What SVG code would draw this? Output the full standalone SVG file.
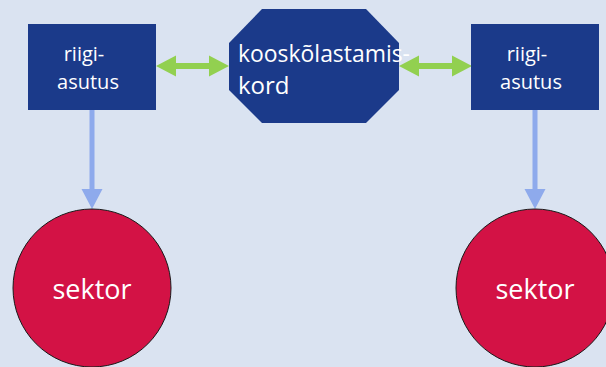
<svg xmlns="http://www.w3.org/2000/svg" width="606" height="367" viewBox="0 0 606 367">
  <style>
    .box { fill: #1b3a8a; }
    .circle { fill: #d31245; stroke: #1a1a1a; stroke-width: 1; }
    .lbl { font-family: "Open Sans", "Liberation Sans", sans-serif; fill: #ffffff; }
    .small { font-size: 20px; text-anchor: middle; }
    .mid { font-size: 24px; }
    .big { font-size: 27px; text-anchor: middle; }
    .link2 { fill: #92d050; }
    .down { fill: #8eaaec; }
  </style>
  <rect width="606" height="367" fill="#dae3f1"/>

  <g id="connectors">
    <!-- two-way links between the agencies and the coordination office -->
    <polygon class="link2" points="156,66 176,55.5 176,63 209,63 209,55.5 229,66 209,76.5 209,69 176,69 176,76.5"/>
    <polygon class="link2" points="399,66 419,55.5 419,63 452,63 452,55.5 472,66 452,76.5 452,69 419,69 419,76.5"/>
    <!-- agency to sector -->
    <polygon class="down" points="89.5,110 94.5,110 94.5,189 102.5,189 92,209 81.5,189 89.5,189"/>
    <polygon class="down" points="532.5,110 537.5,110 537.5,189 545.5,189 535,209 524.5,189 532.5,189"/>
  </g>

  <g id="agency-left">
    <rect class="box" x="28" y="24" width="128" height="86"/>
    <text class="lbl small" x="84" y="61">riigi-</text>
    <text class="lbl small" x="88" y="89">asutus</text>
  </g>

  <g id="coordination">
    <polygon class="box" points="262,9 366,9 399,43 399,90 366,123 262,123 229,90 229,43"/>
    <text class="lbl mid" x="238" y="62" textLength="172" lengthAdjust="spacingAndGlyphs">kooskõlastamis-</text>
    <text class="lbl mid" x="238" y="94">kord</text>
  </g>

  <g id="agency-right">
    <rect class="box" x="471" y="24" width="128" height="86"/>
    <text class="lbl small" x="527" y="61">riigi-</text>
    <text class="lbl small" x="531" y="89">asutus</text>
  </g>

  <g id="sector-left">
    <circle class="circle" cx="92" cy="288" r="79"/>
    <text class="lbl big" x="92" y="299">sektor</text>
  </g>

  <g id="sector-right">
    <circle class="circle" cx="535" cy="288" r="79"/>
    <text class="lbl big" x="535" y="299">sektor</text>
  </g>
</svg>
